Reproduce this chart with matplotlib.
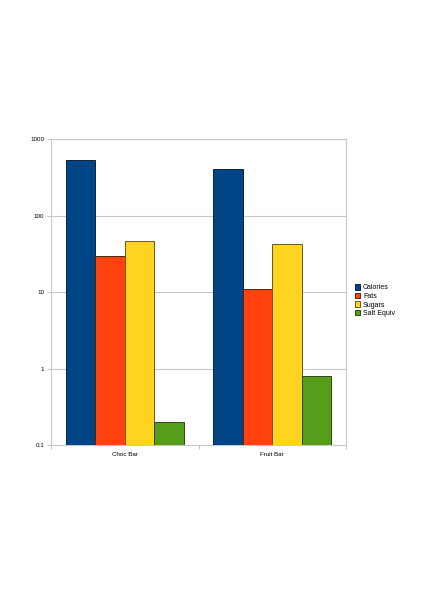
import matplotlib.pyplot as plt
import numpy as np
from matplotlib.ticker import FixedLocator, NullFormatter, NullLocator

plt.rcParams['font.family'] = ['Liberation Sans', 'DejaVu Sans']

# data
categories = ['Choc Bar', 'Fruit Bar']
series = ['Calories', 'Fats', 'Sugars', 'Salt Equiv']
calories = [532, 410]
fats = [30, 11]
sugars = [47, 43]
salt = [0.2, 0.8]
yticks = [0.1, 1, 10, 100, 1000]
yticklabels = ['0.1', '1', '10', '100', '1000']

colors = ['#004586', '#ff420e', '#ffd320', '#579d1c']
edges = ['#0d2440', '#5a2010', '#6b5a15', '#2b4a12']

fig = plt.figure(figsize=(4.24, 6), dpi=100)
ax = fig.add_axes([51 / 424, 1 - 445.3 / 600, 295 / 424, 306.3 / 600])

x = np.arange(len(categories))
width = 0.2
for i, (name, vals) in enumerate(zip(series, [calories, fats, sugars, salt])):
    offs = (i - 1.5) * width
    ax.bar(x + offs, vals, width, color=colors[i], edgecolor=edges[i],
           linewidth=0.7, label=name, zorder=3)

ax.set_yscale('log')
ax.set_ylim(0.1, 1000)
ax.set_xlim(-0.5, 1.5)
ax.yaxis.set_major_locator(FixedLocator(yticks))
ax.set_yticklabels(yticklabels)
ax.yaxis.set_minor_locator(NullLocator())
ax.yaxis.set_minor_formatter(NullFormatter())
ax.grid(axis='y', color='#c8c8c8', linewidth=0.8, zorder=0)

ax.set_xticks(x)
ax.set_xticklabels(categories)
ax.set_xticks([-0.5, 0.5, 1.5], minor=True)
ax.tick_params(axis='x', which='major', length=0, labelsize=4.5, pad=5)
ax.tick_params(axis='x', which='minor', length=3, color='#c8c8c8', width=0.8)
ax.tick_params(axis='y', which='major', length=3, color='#c8c8c8', width=0.8,
               labelsize=4.5, pad=2)

for s in ax.spines.values():
    s.set_color('#c8c8c8')
    s.set_linewidth(0.8)

leg = fig.legend(loc='upper left', bbox_to_anchor=(352 / 424, 1 - 281.5 / 600),
                 frameon=False, fontsize=5, handlelength=0.8, handleheight=0.8,
                 handletextpad=0.4, labelspacing=0.22, borderaxespad=0)

fig.savefig('out.png', dpi=100)
